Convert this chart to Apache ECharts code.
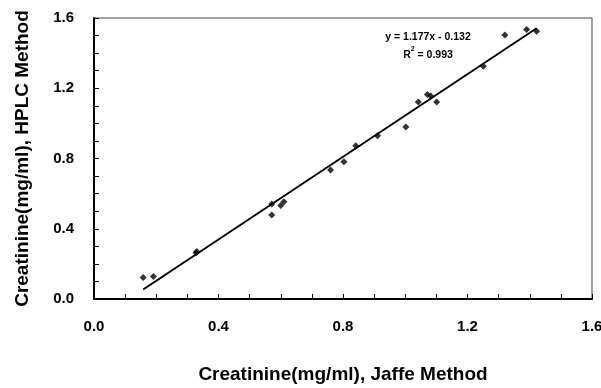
<!DOCTYPE html>
<html><head><meta charset="utf-8">
<script src="https://cdn.jsdelivr.net/npm/echarts@6/dist/echarts.min.js"></script>
<style>html,body{margin:0;padding:0;background:#fff}#c{width:601px;height:388px}</style>
</head><body><div id="c"></div>
<script>
var jaffe = [0.158,0.191,0.330,0.328,0.571,0.571,0.600,0.610,0.760,0.803,0.841,0.911,1.002,1.042,1.071,1.082,1.101,1.251,1.320,1.390,1.422];
var hplc  = [0.123,0.128,0.270,0.262,0.541,0.479,0.532,0.554,0.734,0.781,0.872,0.929,0.980,1.122,1.164,1.156,1.122,1.325,1.503,1.535,1.525];
var slope = 1.177, intercept = -0.132;
var xTicks = ['0.0','0.4','0.8','1.2','1.6'];
var yTicks = ['0.0','0.4','0.8','1.2','1.6'];

var FONT = '"Liberation Sans Narrow","Arial Narrow","Liberation Sans",sans-serif';
var pts = jaffe.map(function(x,i){return [x,hplc[i]];});
var xmin = Math.min.apply(null,jaffe), xmax = Math.max.apply(null,jaffe);
var trend = [[xmin, slope*xmin+intercept],[xmax, slope*xmax+intercept]];

var chart = echarts.init(document.getElementById('c'));
function axisCommon(labels){
  return {
    type:'value', min:0, max:1.6, interval:0.1,
    axisLine:{show:true,lineStyle:{color:'#000',width:2}},
    axisTick:{show:true,inside:true,length:5,lineStyle:{color:'#000',width:1}},
    splitLine:{show:false},
    axisLabel:{fontFamily:FONT,fontWeight:'bold',fontSize:15,color:'#000',
      formatter:function(v){
        var s=v.toFixed(1);
        return labels.indexOf(s)>=0 && Math.abs(v*10/4-Math.round(v*10/4))<1e-6 ? s : '';
      }}
  };
}
var xa = axisCommon(xTicks); xa.axisLabel.margin=20;
xa.name='Creatinine(mg/ml), Jaffe Method'; xa.nameLocation='middle'; xa.nameGap=66;
xa.nameTextStyle={fontFamily:FONT,fontWeight:'bold',fontSize:19,color:'#000'};
var ya = axisCommon(yTicks); ya.axisLabel.margin=20;
ya.name='Creatinine(mg/ml), HPLC Method'; ya.nameLocation='middle'; ya.nameGap=62;
ya.nameTextStyle={fontFamily:FONT,fontWeight:'bold',fontSize:19,color:'#000'};

chart.setOption({
  animation:false,
  grid:{left:94,right:9,top:18,bottom:89,show:true,borderColor:'#444',borderWidth:1,containLabel:false,outerBoundsMode:'none'},
  xAxis:xa, yAxis:ya,
  series:[
    {type:'scatter',data:pts,symbol:'diamond',symbolSize:7,itemStyle:{color:'#000'},z:3},
    {type:'line',data:trend,symbol:'none',lineStyle:{color:'#000',width:2},z:2}
  ],
  graphic:[{
    type:'text', x:428, y:28,
    style:{text:'y = 1.177x - 0.132\n{n|R}{s|2}{n| = 0.993}',
      fontFamily:FONT,fontWeight:'bold',fontSize:10.5,fill:'#000',align:'center',lineHeight:18,
      rich:{n:{fontFamily:FONT,fontWeight:'bold',fontSize:10.5,fill:'#000'},
            s:{fontFamily:FONT,fontWeight:'bold',fontSize:7,fill:'#000',verticalAlign:'top',padding:[0,0,6,0]}}}
  }]
});
</script></body></html>
